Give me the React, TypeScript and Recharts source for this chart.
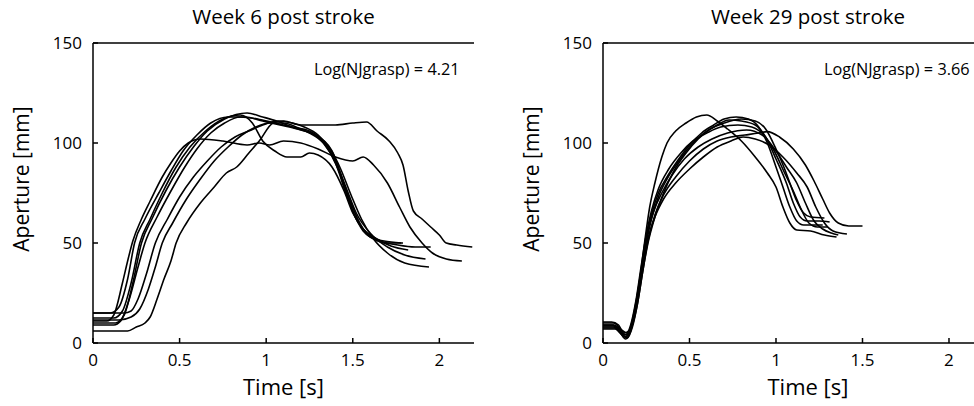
import React from "react"
import { LineChart, Line, XAxis, YAxis } from "recharts"

// Week 6 post stroke: aperture traces [time s, aperture mm]
const week6Trial1 = [[0,11],[0.08,11],[0.12,14],[0.17,30],[0.2,41],[0.23,51],[0.28,62],[0.33,71],[0.4,83],[0.45,90],[0.5,96],[0.55,100],[0.62,102],[0.75,101],[0.89,99],[0.96,100],[1.02,99],[1.1,101],[1.2,100],[1.3,97],[1.4,93],[1.5,91],[1.56,93],[1.62,89],[1.7,80],[1.77,68],[1.83,58],[1.9,50],[1.96,45],[2.04,42],[2.13,41]]
const week6Trial2 = [[0,15],[0.1,15],[0.15,18],[0.2,32],[0.24,50],[0.3,62],[0.38,75],[0.45,86],[0.52,96],[0.6,104],[0.68,110],[0.78,113],[0.88,113],[0.98,111],[1.08,109],[1.18,107],[1.28,104],[1.38,96],[1.44,82],[1.5,66],[1.56,56],[1.62,52],[1.7,50],[1.79,50]]
const week6Trial3 = [[0,12.5],[0.12,12.5],[0.17,16],[0.22,30],[0.27,50],[0.33,62],[0.4,75],[0.48,88],[0.56,98],[0.65,106],[0.75,112],[0.85,114],[0.92,110],[0.98,101],[1.05,96],[1.12,93],[1.2,93],[1.25,95],[1.3,94],[1.38,88],[1.45,76],[1.5,65],[1.56,57],[1.64,52],[1.72,48.5],[1.82,46.5]]
const week6Trial4 = [[0,10],[0.13,10],[0.18,14],[0.23,30],[0.28,50],[0.34,62],[0.42,76],[0.5,88],[0.58,98],[0.66,106],[0.76,112],[0.89,115],[0.98,113],[1.06,111],[1.15,108],[1.25,105],[1.33,100],[1.4,90],[1.46,75],[1.52,62],[1.58,55],[1.66,51],[1.76,49],[1.86,48],[1.95,48]]
const week6Trial5 = [[0,9],[0.12,9],[0.16,11],[0.21,22],[0.26,38],[0.3,50],[0.37,63],[0.45,76],[0.53,88],[0.6,97],[0.68,105],[0.76,110],[0.85,113],[0.95,112],[1.05,110],[1.15,108],[1.25,106],[1.33,101],[1.4,91],[1.46,78],[1.52,65],[1.6,55],[1.7,48],[1.8,44],[1.92,42]]
const week6Trial6 = [[0,15],[0.18,15],[0.22,16],[0.26,22],[0.31,35],[0.36,50],[0.43,62],[0.5,73],[0.58,83],[0.66,91],[0.74,98],[0.82,103],[0.9,106],[0.98,109],[1.07,111],[1.15,110],[1.22,108],[1.3,104],[1.37,97],[1.43,87],[1.49,74],[1.55,62],[1.62,52],[1.7,45],[1.8,40],[1.94,38]]
const week6Trial7 = [[0,11.5],[0.15,11.5],[0.22,13],[0.27,17],[0.32,27],[0.36,38],[0.4,50],[0.46,60],[0.54,72],[0.62,82],[0.7,91],[0.78,98],[0.86,104],[0.94,108],[1.02,110],[1.1,110],[1.2,107],[1.28,104],[1.35,98],[1.42,86],[1.48,72],[1.54,60],[1.6,53],[1.68,51],[1.78,50]]
const week6Trial8 = [[0,6],[0.2,6],[0.25,8],[0.3,10],[0.33,13],[0.37,22],[0.41,32],[0.45,41],[0.48,50],[0.54,60],[0.62,70],[0.7,78],[0.77,85],[0.83,88],[0.9,95],[0.96,101],[1.04,110],[1.1,111],[1.2,109],[1.3,109],[1.4,109],[1.5,110],[1.58,110.5],[1.64,106],[1.71,101],[1.76,95],[1.79,89],[1.82,76],[1.85,66],[1.9,62],[1.95,58],[2.0,54],[2.04,50],[2.1,49],[2.19,48]]

// Week 29 post stroke
const week29Trial1 = [[0,10.5],[0.05,10.5],[0.09,9],[0.12,5],[0.15,6],[0.18,14],[0.21,30],[0.24,50],[0.27,68],[0.3,80],[0.34,93],[0.37,100],[0.42,106],[0.48,110],[0.54,113],[0.6,114],[0.66,111],[0.72,107],[0.8,101],[0.88,93],[0.95,85],[1.0,78],[1.04,68],[1.08,60],[1.12,56.5],[1.2,56],[1.28,54],[1.35,53]]
const week29Trial2 = [[0,9],[0.06,9],[0.1,6],[0.13,3],[0.16,8],[0.19,20],[0.22,36],[0.25,52],[0.28,64],[0.32,75],[0.37,83],[0.43,91],[0.5,99],[0.57,105],[0.64,109],[0.7,112],[0.77,113],[0.84,112],[0.9,108],[0.95,100],[1.0,88],[1.04,78],[1.08,68],[1.12,61],[1.16,59],[1.22,59],[1.27,59]]
const week29Trial3 = [[0,8],[0.06,8],[0.1,5],[0.13,2],[0.16,6],[0.19,18],[0.22,34],[0.25,50],[0.28,62],[0.32,73],[0.37,82],[0.43,90],[0.5,98],[0.57,104],[0.64,108],[0.73,111.5],[0.8,111],[0.88,109],[0.94,103],[1.0,92],[1.06,80],[1.1,70],[1.14,63],[1.18,61],[1.25,61],[1.31,60.5]]
const week29Trial4 = [[0,7.5],[0.07,7.5],[0.11,5],[0.14,4],[0.17,9],[0.2,20],[0.23,36],[0.26,50],[0.3,63],[0.35,75],[0.41,86],[0.48,95],[0.55,102],[0.62,107],[0.7,110],[0.8,112],[0.88,111],[0.94,107],[1.0,97],[1.05,87],[1.08,80],[1.12,71],[1.16,65],[1.2,63],[1.28,62.5]]
const week29Trial5 = [[0,10],[0.06,10],[0.1,7],[0.13,3],[0.16,7],[0.19,19],[0.22,35],[0.25,52],[0.29,65],[0.34,75],[0.4,84],[0.47,92],[0.55,98],[0.63,102],[0.72,105],[0.83,106.5],[0.92,104],[1.0,96],[1.06,88],[1.12,80],[1.17,70],[1.22,61],[1.27,57],[1.32,55],[1.36,54]]
const week29Trial6 = [[0,9],[0.06,9],[0.1,7],[0.14,5],[0.17,10],[0.2,22],[0.23,38],[0.26,52],[0.3,63],[0.35,72],[0.42,80],[0.5,87],[0.58,93],[0.66,98],[0.74,101],[0.81,103],[0.88,102],[0.96,99],[1.04,93],[1.12,85],[1.18,78],[1.23,68],[1.28,60],[1.33,56],[1.41,54.5]]
const week29Trial7 = [[0,7],[0.07,7],[0.11,4],[0.14,2.5],[0.17,8],[0.2,20],[0.23,36],[0.26,51],[0.3,64],[0.35,74],[0.42,83],[0.5,91],[0.58,97],[0.66,101],[0.74,103],[0.82,104],[0.9,105],[0.95,105.7],[1.02,103],[1.1,97],[1.17,89],[1.22,81],[1.27,72],[1.31,65],[1.36,60],[1.42,58.5],[1.5,58.5]]
const week29Trial8 = [[0,8.5],[0.06,8.5],[0.1,6],[0.13,4],[0.16,9],[0.19,21],[0.22,38],[0.25,54],[0.28,66],[0.32,77],[0.38,87],[0.45,95],[0.52,101],[0.6,105],[0.68,108],[0.78,109],[0.86,108],[0.93,104],[0.99,96],[1.05,85],[1.1,76],[1.15,66],[1.19,60],[1.24,58],[1.3,58]]

const week6Trials = [week6Trial1, week6Trial2, week6Trial3, week6Trial4, week6Trial5, week6Trial6, week6Trial7, week6Trial8]
const week29Trials = [week29Trial1, week29Trial2, week29Trial3, week29Trial4, week29Trial5, week29Trial6, week29Trial7, week29Trial8]

const xTicks = [0, 0.5, 1, 1.5, 2]
const yTicks = [0, 50, 100, 150]

const FONT = "'Open Sans', sans-serif"

function toPoints(trial: number[][]) {
  return trial.map(([t, v]) => ({ t, v }))
}

function Panel({ title, note, trials, xMax, width }: { title: string; note: string; trials: number[][][]; xMax: number; width: number }) {
  const tickStyle = { fontSize: 17, fill: "#000", fontFamily: FONT }
  return (
    <LineChart width={width} height={406} margin={{ top: 0, right: 16, bottom: 0, left: 0 }}>
      <XAxis
        dataKey="t"
        type="number"
        domain={[0, xMax]}
        ticks={xTicks}
        allowDataOverflow
        height={63}
        tickSize={-5}
        tickMargin={16}
        stroke="#000"
        strokeWidth={1.5}
        tick={tickStyle}
        label={({ viewBox }: any) => (
          <text x={viewBox.x + viewBox.width / 2} y={395} textAnchor="middle" fontSize={22} fontFamily={FONT} fill="#000">
            Time [s]
          </text>
        )}
      />
      <XAxis
        xAxisId="top"
        orientation="top"
        type="number"
        domain={[0, xMax]}
        height={43}
        tick={false}
        tickLine={false}
        stroke="#000"
        strokeWidth={1.5}
        label={({ viewBox }: any) => (
          <g>
            <text x={viewBox.x + viewBox.width / 2} y={24} textAnchor="middle" fontSize={20.5} fontFamily={FONT} fill="#000">
              {title}
            </text>
            <text x={viewBox.x + 221} y={75} textAnchor="start" fontSize={16.3} fontFamily={FONT} fill="#000">
              {note}
            </text>
          </g>
        )}
      />
      <YAxis
        type="number"
        domain={[0, 150]}
        ticks={yTicks}
        width={93}
        tickSize={-5}
        tickMargin={16}
        stroke="#000"
        strokeWidth={1.5}
        tick={tickStyle}
        label={() => (
          <text
            x={29}
            y={179}
            transform="rotate(-90 29 179)"
            textAnchor="middle"
            fontSize={21}
            fontFamily={FONT}
            fill="#000"
          >
            Aperture [mm]
          </text>
        )}
      />
      <YAxis yAxisId="right" orientation="right" width={0} domain={[0, 150]} tick={false} tickLine={false} stroke="#000" strokeWidth={1.5} />
      {trials.map((trial, i) => (
        <Line
          key={i}
          data={toPoints(trial)}
          dataKey="v"
          type="monotone"
          stroke="#000"
          strokeWidth={1.6}
          dot={false}
          activeDot={false}
          isAnimationActive={false}
        />
      ))}
    </LineChart>
  )
}

export default function App() {
  return (
    <div style={{ position: "absolute", left: 0, top: 0, width: 974, height: 406, overflow: "hidden", background: "#fff" }}>
      <div style={{ position: "absolute", left: 0, top: 0 }}>
        <Panel title="Week 6 post stroke" note="Log(NJgrasp) = 4.21" trials={week6Trials} xMax={2.2} width={490} />
      </div>
      <div style={{ position: "absolute", left: 510, top: 0 }}>
        <Panel title="Week 29 post stroke" note="Log(NJgrasp) = 3.66" trials={week29Trials} xMax={2.37} width={519} />
      </div>
    </div>
  )
}
